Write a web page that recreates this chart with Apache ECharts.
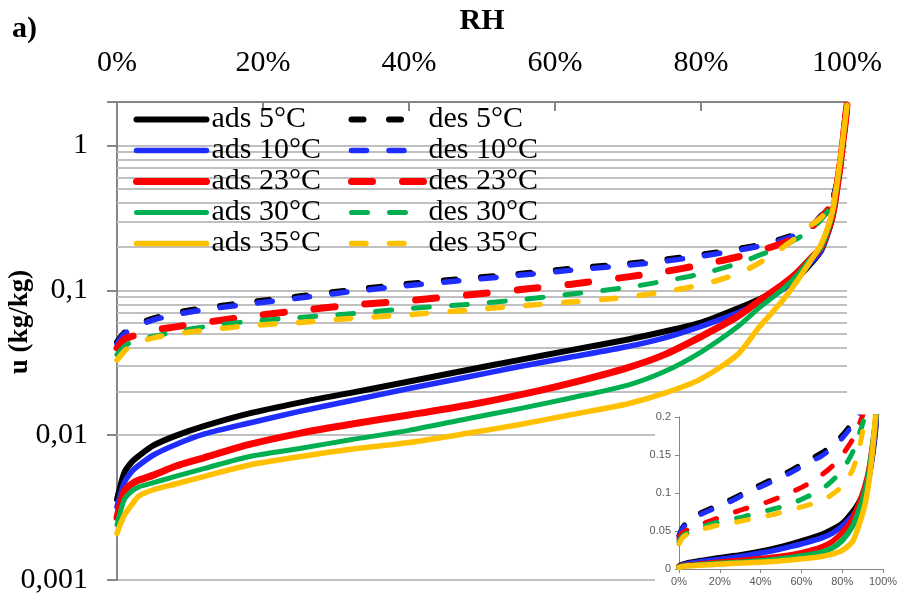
<!DOCTYPE html>
<html><head><meta charset="utf-8">
<script src="https://cdn.jsdelivr.net/npm/echarts@6/dist/echarts.min.js"></script>
<style>html,body{margin:0;padding:0;background:#fff}#c{width:899px;height:601px}</style>
</head><body><div id="c"></div>
<script>
// ---- data (RH in %, u in kg/kg) ----
const rh = [0,1,2,3,5,8,12,18,25,32,40,48,55,62,70,75,80,85,88,91,93,95,96.5,98,99,100];
const ads5  = [0.0036,0.0055,0.0065,0.0072,0.0085,0.0099,0.0116,0.0141,0.0168,0.0196,0.0235,0.0282,0.0330,0.0385,0.0458,0.0520,0.0600,0.075,0.087,0.103,0.120,0.152,0.190,0.32,0.70,1.9];
const ads10 = [0.0032,0.0047,0.0056,0.0062,0.0073,0.0086,0.0102,0.0121,0.0146,0.0173,0.0210,0.0252,0.0297,0.0345,0.0410,0.0470,0.0565,0.070,0.082,0.100,0.118,0.155,0.190,0.32,0.70,1.9];
const ads23 = [0.0027,0.0041,0.0046,0.0049,0.0053,0.0061,0.0070,0.0086,0.0103,0.0119,0.0138,0.0161,0.0189,0.0228,0.0293,0.0360,0.0480,0.066,0.085,0.108,0.130,0.165,0.200,0.33,0.70,1.9];
const ads30 = [0.0024,0.0036,0.0041,0.0044,0.0047,0.0052,0.0059,0.0071,0.0081,0.0093,0.0108,0.0130,0.0152,0.0180,0.0222,0.0275,0.0375,0.056,0.076,0.100,0.125,0.165,0.200,0.34,0.72,1.9];
const ads35 = [0.0021,0.0028,0.0033,0.0038,0.0042,0.0046,0.0052,0.0062,0.0071,0.0080,0.0089,0.0103,0.0118,0.0138,0.0165,0.0195,0.0245,0.036,0.056,0.083,0.113,0.160,0.21,0.35,0.75,1.9];
const des5  = [0.044,0.051,0.0556,0.059,0.064,0.070,0.0755,0.0827,0.091,0.1005,0.111,0.121,0.130,0.141,0.153,0.163,0.176,0.193,0.206,0.226,0.245,0.274,0.33,0.42,0.70,1.9];
const des10 = [0.043,0.050,0.054,0.0575,0.0625,0.068,0.0735,0.0805,0.0885,0.098,0.108,0.118,0.127,0.1375,0.149,0.159,0.172,0.189,0.202,0.222,0.241,0.270,0.33,0.42,0.70,1.9];
const des23 = [0.040,0.046,0.048,0.050,0.053,0.056,0.060,0.066,0.0725,0.079,0.085,0.093,0.101,0.110,0.124,0.135,0.150,0.170,0.188,0.210,0.232,0.270,0.320,0.40,0.70,1.9];
const des30 = [0.036,0.041,0.044,0.046,0.048,0.052,0.056,0.061,0.065,0.069,0.075,0.080,0.086,0.094,0.105,0.116,0.130,0.153,0.175,0.200,0.225,0.262,0.31,0.40,0.70,1.9];
const des35 = [0.033,0.038,0.042,0.044,0.047,0.050,0.053,0.057,0.060,0.064,0.068,0.073,0.078,0.083,0.090,0.098,0.109,0.130,0.155,0.195,0.230,0.280,0.32,0.40,0.70,1.9];

const adsNames = ['ads 5°C','ads 10°C','ads 23°C','ads 30°C','ads 35°C'];
const desNames = ['des 5°C','des 10°C','des 23°C','des 30°C','des 35°C'];

const xTicks = [0,20,40,60,80,100];
const xTickLabels = ['0%','20%','40%','60%','80%','100%'];
const yMajorTicks = [0.001,0.01,0.1,1];
const yTickLabels = ['0,001','0,01','0,1','1'];
const yMinorGrid = [0.002,0.003,0.004,0.005,0.006,0.007,0.008,0.009,
                    0.02,0.03,0.04,0.05,0.06,0.07,0.08,0.09,
                    0.2,0.3,0.4,0.5,0.6,0.7,0.8,0.9];
const insetYTicks = [0,0.05,0.1,0.15,0.2];

// ---- styles ----
const serif = 'Liberation Serif';
const colors = ['#000000','#1F2DFF','#FF0000','#00B050','#FFC000'];
const adsWidth = [6,5.5,7,5,5.5];
const desWidth = [6,5.5,7,5,5.5];
const desDash = [[12,25.5],[15,22.5],[21,30],[16,22],[14.5,23.5]];
const adsData = [ads5,ads10,ads23,ads30,ads35];
const desData = [des5,des10,des23,des30,des35];

function pts(vals){ return rh.map((x,i)=>[x, vals[i]]); }
function line(name, vals, color, width, dash, gi, z){
  return {
    type:'line', name:name, data:pts(vals), xAxisIndex:gi, yAxisIndex:gi,
    symbol:'none', showSymbol:false, smooth:0.25, silent:true, z:z,
    lineStyle:{color:color, width:width, type:dash||'solid', cap:'round', join:'round'},
    itemStyle:{color:color}, emphasis:{disabled:true}
  };
}

const series = [];
// minor log gridlines
series.push({
  type:'line', name:'grid', data:[], xAxisIndex:0, yAxisIndex:0, silent:true,
  markLine:{ z:1, silent:true, symbol:['none','none'], label:{show:false}, animation:false,
    lineStyle:{color:'#c0c0c0', width:2, type:'solid'},
    emphasis:{disabled:true},
    data: yMinorGrid.map(v=>({yAxis:v})) }
});
for (let i=0;i<5;i++) series.push(line(desNames[i], desData[i], colors[i], desWidth[i], desDash[i], 0, 2));
for (let i=0;i<5;i++) series.push(line(adsNames[i], adsData[i], colors[i], adsWidth[i], null, 0, 3));
// inset
for (let i=0;i<5;i++) series.push(line(desNames[i]+' inset', desData[i], colors[i], 5, [12,20], 1, 13));
for (let i=0;i<5;i++) series.push(line(adsNames[i]+' inset', adsData[i], colors[i], 5.5, null, 1, 14));

const legendText = {fontFamily:serif, fontSize:30, color:'#000', lineHeight:31};
const legendItem = {color:'rgba(0,0,0,0)', borderWidth:0, opacity:0};

const option = {
  animation:false,
  backgroundColor:'#fff',
  grid:[
    {left:117, top:102, width:730, height:478, outerBoundsMode:'none', containLabel:false},
    {left:679, top:417, width:204, height:152, outerBoundsMode:'none', containLabel:false}
  ],
  xAxis:[
    { type:'value', gridIndex:0, position:'top', min:0, max:100, interval:20,
      axisLine:{show:true, onZero:false, lineStyle:{color:'#868686', width:2}},
      axisTick:{show:true, inside:true, length:9, lineStyle:{color:'#868686', width:2}},
      axisLabel:{margin:24, fontFamily:serif, fontSize:30, color:'#000',
        formatter:v=>{const k=xTicks.indexOf(v); return k>=0?xTickLabels[k]:'';}},
      splitLine:{show:false},
      name:'RH', nameLocation:'middle', nameGap:81,
      nameTextStyle:{fontFamily:serif, fontSize:30, fontWeight:'bold', color:'#000', verticalAlign:'middle'} },
    { type:'value', gridIndex:1, position:'bottom', min:0, max:100, interval:20, z:12,
      axisLine:{show:true, onZero:false, lineStyle:{color:'#868686', width:1}},
      axisTick:{show:true, length:4, lineStyle:{color:'#868686'}},
      axisLabel:{margin:7, fontFamily:'Liberation Sans', fontSize:11, color:'#595959', formatter:'{value}%'},
      splitLine:{show:false} }
  ],
  yAxis:[
    { type:'log', logBase:10, gridIndex:0, min:0.001, max:2,
      axisLine:{show:true, onZero:false, lineStyle:{color:'#868686', width:2}},
      axisTick:{show:true, length:10, lineStyle:{color:'#868686', width:2}},
      axisLabel:{margin:29, fontFamily:serif, fontSize:30, color:'#000',
        formatter:v=>{const k=yMajorTicks.findIndex(t=>Math.abs(t-v)/t<1e-6); return k>=0?yTickLabels[k]:'';}},
      splitLine:{show:true, lineStyle:{color:'#c0c0c0', width:2}},
      minorTick:{show:false}, minorSplitLine:{show:false} },
    { type:'value', gridIndex:1, min:0, max:0.2, interval:0.05, z:12,
      axisLine:{show:true, onZero:false, lineStyle:{color:'#868686', width:1}},
      axisTick:{show:true, length:4, lineStyle:{color:'#868686'}},
      axisLabel:{margin:8, fontFamily:'Liberation Sans', fontSize:11, color:'#595959',
        formatter:v=>{const k=insetYTicks.findIndex(t=>Math.abs(t-v)<1e-9); return k>=0?String(insetYTicks[k]):'';}},
      splitLine:{show:false} }
  ],
  legend:[
    { data:adsNames, orient:'vertical', left:133, top:104, itemWidth:70, itemHeight:14, itemGap:0,
      padding:0, selectedMode:false, textStyle:legendText, lineStyle:{width:'inherit'}, itemStyle:legendItem },
    { data:desNames, orient:'vertical', left:348, top:104, itemWidth:72, itemHeight:14, itemGap:0,
      padding:0, selectedMode:false, textStyle:legendText, lineStyle:{width:'inherit'}, itemStyle:legendItem }
  ],
  graphic:[
    { type:'rect', z:10, silent:true, shape:{x:655, y:408, width:244, height:193}, style:{fill:'#fff'} },
    { type:'text', z:20, x:12, y:29, style:{text:'a)', font:'bold 30px "Liberation Serif"', fill:'#000', verticalAlign:'middle'} },
    { type:'text', z:20, x:20, y:322, rotation:Math.PI/2,
      style:{text:'u (kg/kg)', font:'bold 27px "Liberation Serif"', fill:'#000', align:'center', verticalAlign:'middle'} }
  ],
  series:series
};
const chart = echarts.init(document.getElementById('c'), null, {renderer:'canvas'});
chart.setOption(option);
</script></body></html>
